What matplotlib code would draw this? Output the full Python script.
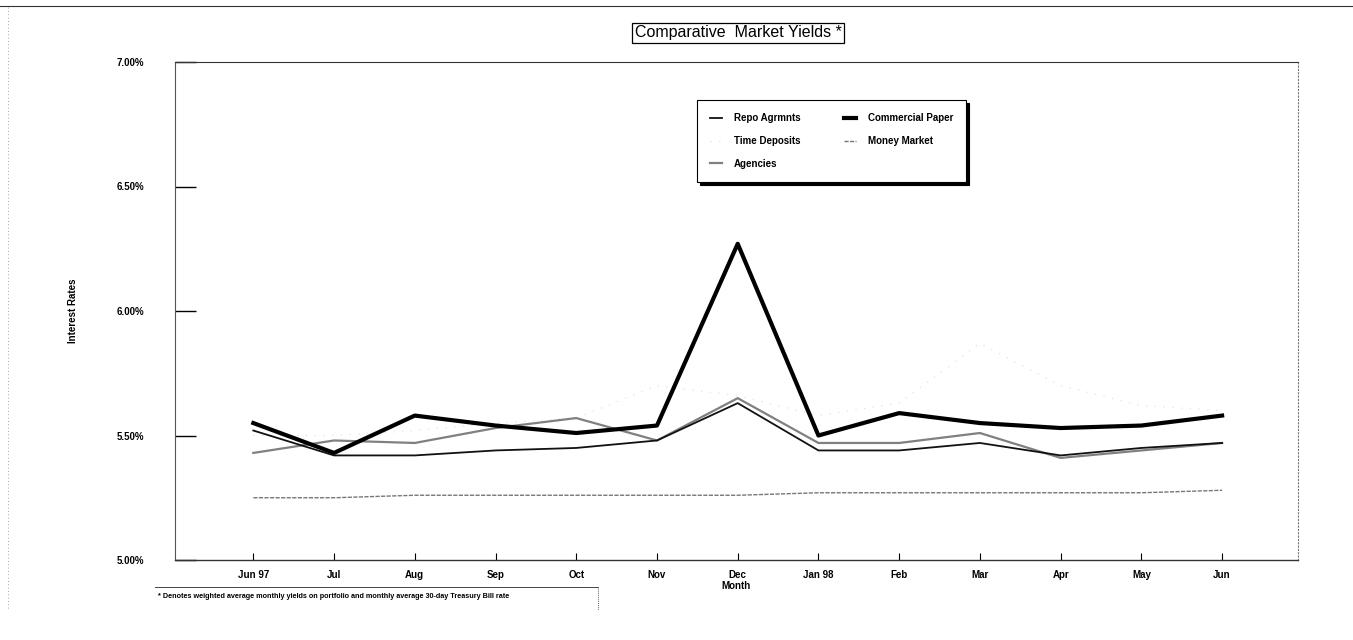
import matplotlib
matplotlib.use("Agg")
import matplotlib.pyplot as plt
from matplotlib.lines import Line2D
from matplotlib.ticker import FuncFormatter

plt.rcParams['font.family'] = ['Liberation Sans', 'DejaVu Sans']

months = ["Jun 97", "Jul", "Aug", "Sep", "Oct", "Nov", "Dec",
          "Jan 98", "Feb", "Mar", "Apr", "May", "Jun"]
repo = [5.52, 5.42, 5.42, 5.44, 5.45, 5.48, 5.63, 5.44, 5.44, 5.47, 5.42, 5.45, 5.47]
commercial_paper = [5.55, 5.43, 5.58, 5.54, 5.51, 5.54, 6.27, 5.50, 5.59, 5.55, 5.53, 5.54, 5.58]
time_deposits = [5.50, 5.50, 5.52, 5.55, 5.57, 5.70, 5.66, 5.58, 5.63, 5.87, 5.70, 5.62, 5.60]
money_market = [5.25, 5.25, 5.26, 5.26, 5.26, 5.26, 5.26, 5.27, 5.27, 5.27, 5.27, 5.27, 5.28]
agencies = [5.43, 5.48, 5.47, 5.53, 5.57, 5.48, 5.65, 5.47, 5.47, 5.51, 5.41, 5.44, 5.47]
yticks = [5.00, 5.50, 6.00, 6.50, 7.00]

W, H = 1353, 640
fig = plt.figure(figsize=(W / 100, H / 100), dpi=100)
ax = fig.add_axes([175 / W, 1 - 560 / H, (1298 - 175) / W, (560 - 62) / H])

x = list(range(len(months)))
l_td, = ax.plot(x, time_deposits, color='#e2e2e2', lw=0.9, ls=(0, (1, 6)), label='Time Deposits')
l_mm, = ax.plot(x, money_market, color='#777777', lw=1.0, ls=(0, (3, 1)), label='Money Market')
l_ag, = ax.plot(x, agencies, color='#808080', lw=1.6, label='Agencies')
l_repo, = ax.plot(x, repo, color='#111111', lw=1.3, label='Repo Agrmnts')
l_cp, = ax.plot(x, commercial_paper, color='#000000', lw=3.0, label='Commercial Paper')

ax.set_xlim(-0.97, 12.94)
ax.set_ylim(5.0, 7.0)
ax.set_xticks(x)
ax.set_xticklabels(months, fontsize=7, fontweight='bold')
ax.set_yticks(yticks)
ax.yaxis.set_major_formatter(FuncFormatter(lambda v, p: f"{v:.2f}%"))
for t in ax.get_yticklabels():
    t.set_fontsize(7)
    t.set_fontweight('bold')
ax.tick_params(axis='y', direction='in', length=15, width=1.0, pad=22, labelsize=7)
ax.tick_params(axis='x', direction='in', length=5, width=0.8, pad=7, labelsize=7)

ax.spines['left'].set_linestyle((0, (1, 1)))
ax.spines['left'].set_color('#555555')
ax.spines['right'].set_linestyle((0, (1, 2)))
ax.spines['right'].set_color('#777777')
ax.spines['top'].set_color('#333333')
ax.spines['top'].set_linewidth(0.8)
ax.spines['bottom'].set_color('#333333')
ax.spines['bottom'].set_linewidth(1.0)

ax.set_xlabel('Month', fontsize=7, fontweight='bold', labelpad=1)
ax.set_ylabel('Interest Rates', fontsize=7, fontweight='bold', labelpad=28)

handles = [l_repo, l_td, l_ag, l_cp, l_mm]
leg = fig.legend(handles=handles, labels=[h.get_label() for h in handles],
                 loc='upper left', bbox_to_anchor=(692 / W, 1 - 95 / H),
                 ncol=2, fontsize=7, frameon=True, fancybox=False,
                 edgecolor='black', handlelength=1.2, handletextpad=1.2,
                 columnspacing=4.5, labelspacing=1.3, borderpad=1.4,
                 shadow={'color': 'black', 'alpha': 1.0})
for t in leg.get_texts():
    t.set_fontweight('bold')
leg.get_frame().set_linewidth(0.8)

fig.text(738 / W, 1 - 33 / H, 'Comparative  Market Yields *', ha='center', va='center',
         fontsize=11.5, bbox=dict(boxstyle='square,pad=0.15', fc='white', ec='black', lw=0.9))

fig.text(158 / W, 1 - 596 / H,
         '* Denotes weighted average monthly yields on portfolio and monthly average 30-day Treasury Bill rate',
         ha='left', va='center', fontsize=5.2, fontweight='bold')
fig.add_artist(Line2D([155 / W, 598 / W], [1 - 587 / H, 1 - 587 / H], color='#444444', lw=0.7))
fig.add_artist(Line2D([598 / W, 598 / W], [1 - 587 / H, 1 - 610 / H], color='#666666', lw=0.7, ls=(0, (1, 1))))

fig.add_artist(Line2D([0, 1], [1 - 6 / H, 1 - 6 / H], color='#333333', lw=0.8))
fig.add_artist(Line2D([8 / W, 8 / W], [0.05, 1 - 6 / H], color='#888888', lw=0.6, ls=(0, (1, 3))))

fig.savefig('out.png', dpi=100)
